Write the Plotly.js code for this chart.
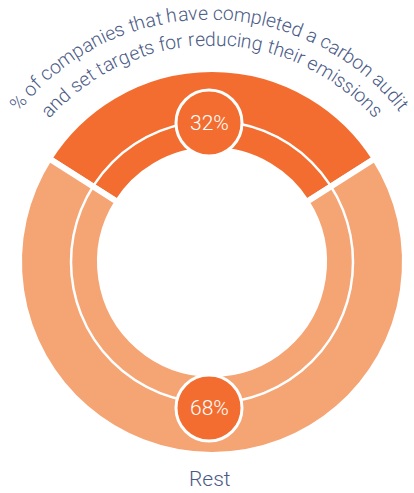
<!DOCTYPE html>
<html>
<head>
<meta charset="utf-8">
<script src="https://cdn.plot.ly/plotly-3.0.1.min.js"></script>
<style>html,body{margin:0;padding:0;background:#fff;}#chart{width:414px;height:493px;}</style>
</head>
<body>
<div id="chart"></div>
<script>
// ---- data ----
const categories = ["Completed carbon audit and set targets", "Rest"];
const values = [32, 68];
const valueLabels = ["32%", "68%"];
const titleLines = ["% of companies that have completed a carbon audit", "and set targets for reducing their emissions"];
const restLabel = "Rest";

// ---- style / layout ----
const W = 414, H = 493;
const cx = 212, cy = 262;          // donut centre (px)
const rOuter = 193;                // includes half of white stroke
const colors = ["#F26D2F", "#F5A474"];
const textColor = "#4B5B86";
const fontFam = "Roboto, 'Liberation Sans', Arial, sans-serif";
const fontWeight = 300;
const titleSize = 19.3;

const px = x => x / W;
const py = y => 1 - y / H;

const annotations = [];
const shapes = [];

// curved title text, one character per annotation along arcs
const canvas = document.createElement("canvas");
const ctx = canvas.getContext("2d");
ctx.font = fontWeight + " " + titleSize + "px Roboto, 'Liberation Sans', Arial";
const arcRadii = [242, 216];   // baseline radii
const arcCentreX = [209, 212];
titleLines.forEach((line, li) => {
  const r = arcRadii[li];
  const widths = [...line].map(ch => ctx.measureText(ch).width);
  const total = widths.reduce((a, b) => a + b, 0);
  let acc = 0;
  [...line].forEach((ch, i) => {
    const mid = acc + widths[i] / 2;
    acc += widths[i];
    if (ch === " ") return;
    const th = (mid - total / 2) / r;
    const rr = r + 7;
    annotations.push({
      x: px(arcCentreX[li] + rr * Math.sin(th)), y: py(cy - rr * Math.cos(th)),
      xref: "paper", yref: "paper", xanchor: "center", yanchor: "middle",
      text: ch, showarrow: false, textangle: th * 180 / Math.PI,
      font: {family: fontFam, size: titleSize, color: textColor, weight: fontWeight}
    });
  });
});

// inner white ring
const rRing = 141;
shapes.push({type: "circle", xref: "paper", yref: "paper",
  x0: px(cx - rRing), x1: px(cx + rRing), y0: py(cy + rRing), y1: py(cy - rRing),
  line: {color: "#ffffff", width: 2.5}, layer: "above"});

// value label badges
const badgeCentres = [[209, 123], [209, 408]];
const rb = 33;
badgeCentres.forEach((c, i) => {
  shapes.push({type: "circle", xref: "paper", yref: "paper",
    x0: px(c[0] - rb), x1: px(c[0] + rb), y0: py(c[1] + rb), y1: py(c[1] - rb),
    fillcolor: colors[0], line: {color: "#ffffff", width: 3}, layer: "above"});
  annotations.push({x: px(c[0]), y: py(c[1]), xref: "paper", yref: "paper",
    xanchor: "center", yanchor: "middle", showarrow: false, text: valueLabels[i],
    font: {family: fontFam, size: 21, color: "#ffffff", weight: fontWeight}});
});

annotations.push({x: px(cx - 2), y: py(479), xref: "paper", yref: "paper",
  xanchor: "center", yanchor: "middle", showarrow: false, text: restLabel,
  font: {family: fontFam, size: 21, color: textColor, weight: fontWeight}});

const trace = {
  type: "pie", labels: categories, values: values, sort: false,
  direction: "clockwise", rotation: -values[0] / 100 * 180,
  hole: 112 / rOuter, textinfo: "none", hoverinfo: "label+percent",
  marker: {colors: colors, line: {color: "#ffffff", width: 6}},
  domain: {x: [px(cx - rOuter), px(cx + rOuter)], y: [py(cy + rOuter), py(cy - rOuter)]},
  showlegend: false
};

Plotly.newPlot("chart", [trace], {
  width: W, height: H, margin: {l: 0, r: 0, t: 0, b: 0},
  paper_bgcolor: "#ffffff", showlegend: false,
  shapes: shapes, annotations: annotations
}, {displayModeBar: false, staticPlot: true});
</script>
</body>
</html>
